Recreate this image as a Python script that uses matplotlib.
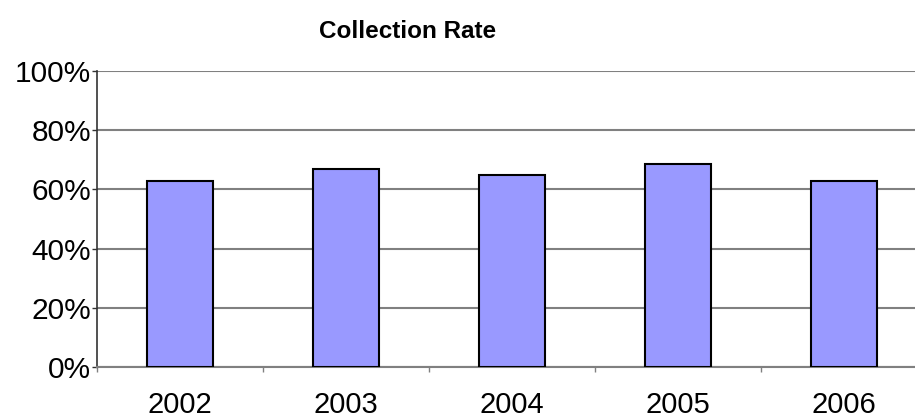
import matplotlib
matplotlib.use("Agg")
import matplotlib.pyplot as plt
import numpy as np
from matplotlib.ticker import FixedLocator

years = ["2002", "2003", "2004", "2005", "2006"]
rates = [63, 67, 65, 68.5, 63]
yticks = [0, 20, 40, 60, 80, 100]
ytick_labels = ["0%", "20%", "40%", "60%", "80%", "100%"]
title = "Collection Rate"

plt.rcParams['font.family'] = ['Liberation Sans', 'DejaVu Sans']

W, H = 915, 418
fig = plt.figure(figsize=(W / 100, H / 100), dpi=100)
left, right, top, bottom = 97, 927, 71, 367
ax = fig.add_axes([left / W, (H - bottom) / H, (right - left) / W, (bottom - top) / H])

x = np.arange(len(years))
ax.bar(x, rates, width=0.4, color="#9999FF", edgecolor="black", linewidth=1.5, zorder=3)

ax.set_xlim(-0.5, len(years) - 0.5)
ax.set_ylim(0, 100)
ax.set_yticks(yticks)
ax.set_yticklabels(ytick_labels)
ax.set_xticks(x)
ax.set_xticklabels(years)
ax.xaxis.set_minor_locator(FixedLocator(np.arange(len(years) + 1) - 0.5))

ax.yaxis.grid(True, color="#808080", linewidth=1.5, zorder=0)
ax.set_axisbelow(True)
for s in ["top", "right"]:
    ax.spines[s].set_visible(False)
ax.spines["left"].set_color("#333333")
ax.spines["left"].set_linewidth(1.2)
ax.spines["bottom"].set_color("#808080")
ax.spines["bottom"].set_linewidth(1.5)

ax.tick_params(axis="y", length=3.6, width=1.0, color="#333333", labelsize=21.5, pad=0.6)
ax.tick_params(axis="x", which="major", length=0, labelsize=21, pad=17.5)
ax.tick_params(axis="x", which="minor", length=3.6, width=1.0, color="#808080")

fig.text(408 / W, 1 - 31 / H, title, ha="center", va="center", fontsize=17.5, fontweight="bold")

fig.savefig("out.png", dpi=100)
